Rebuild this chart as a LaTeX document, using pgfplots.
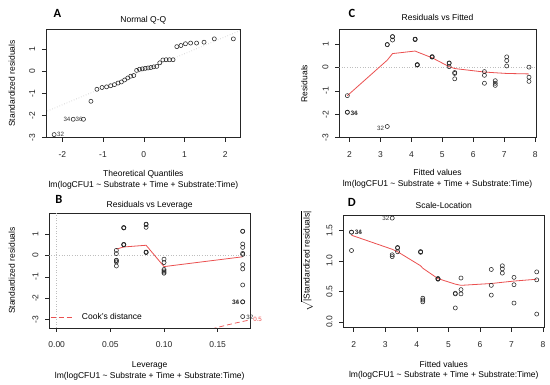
\documentclass[border=0pt]{standalone}
\usepackage{fontspec}
\setmainfont{Liberation Sans}
\newfontfamily\carlito{Carlito}
\usepackage{pgfplots}
\pgfplotsset{compat=1.18}
\definecolor{rred}{RGB}{235,80,80}
\definecolor{rgray}{RGB}{190,190,190}
\newcommand{\fs}{\fontsize{8.5}{10.6}\selectfont}
\newcommand{\fl}{\fontsize{6.2}{7}\selectfont}
\newcommand{\sub}{lm(logCFU1 \textasciitilde{} Substrate + Time + Substrate:Time)}
\tikzset{lab/.style={font=\fl, text=black!80, inner sep=0pt},
  letter/.style={font=\carlito\bfseries\fontsize{12.5}{13}\selectfont}}
\pgfplotsset{
  rplot/.style={
    scale only axis,
    anchor=north west,
    clip mode=individual,
    axis line style={line width=0.5pt, black!85},
    every tick/.style={black!85, line width=0.5pt},
    tick align=outside,
    major tick length=4pt,
    xtick pos=bottom, ytick pos=left,
    /pgf/number format/assume math mode=true,
    tick label style={font=\fs, text=black!85},
    xticklabel style={anchor=north, inner sep=0pt, yshift=-10pt},
    yticklabel style={xshift=-6.6pt, rotate=90, anchor=south, inner sep=0pt},
    label style={font=\fs},
    xlabel style={align=center, anchor=center, at={(axis description cs:0.5,0)}},
    ylabel style={anchor=center},
    title style={font=\fs, anchor=center, at={(axis description cs:0.5,1)}},
  },
  pt/.style={only marks, mark=o, mark size=2.05pt, mark options={line width=0.55pt, black!85}},
}
\begin{document}
\begin{tikzpicture}
\useasboundingbox (0,0) rectangle (550pt,-385pt);
\fill[white] (0,0) rectangle (550pt,-385pt);

% ---------------- A: Normal Q-Q ----------------
\begin{axis}[rplot,
  at={(46pt,-29.3pt)}, width=194.7pt, height=108.4pt,
  xmin=-2.40, xmax=2.38, ymin=-3.0, ymax=1.88,
  xtick={-2,-1,0,1,2}, xticklabels={-2,-1,0,1,2},
  ytick={-3,-2,-1,0,1}, yticklabels={-3,-2,-1,0,1},
  title={Normal Q-Q}, title style={yshift=2.6pt},
  xlabel={Theoretical Quantiles\\\sub}, xlabel style={yshift=-42pt},
  ylabel={Standardized residuals}, ylabel style={at={(axis description cs:-0.176,0.5)}},
]
\addplot[rgray, dotted, line width=0.6pt] coordinates {(-2.6,-1.979) (2.6,2.0)};
\addplot[pt] coordinates {
(-2.200,-2.86) (-1.732,-2.17) (-1.480,-2.17) (-1.297,-1.36) (-1.150,-0.82) (-1.024,-0.74)
(-0.913,-0.71) (-0.812,-0.66) (-0.719,-0.61) (-0.631,-0.54) (-0.549,-0.49) (-0.469,-0.40)
(-0.393,-0.31) (-0.319,-0.23) (-0.246,-0.20) (-0.175,0.03) (-0.105,0.08) (-0.035,0.10)
(0.035,0.12) (0.105,0.14) (0.175,0.16) (0.246,0.19) (0.319,0.21) (0.393,0.37)
(0.469,0.50) (0.549,0.51) (0.631,0.51) (0.719,0.51) (0.812,1.10) (0.913,1.15)
(1.024,1.23) (1.150,1.26) (1.297,1.26) (1.480,1.30) (1.732,1.45) (2.200,1.45)};
\node[lab, anchor=west, xshift=2.8pt] at (axis cs:-2.2,-2.86) {32};
\node[lab, anchor=east, xshift=-2.6pt] at (axis cs:-1.732,-2.17) {34};
\node[lab, anchor=west, xshift=2.2pt] at (axis cs:-1.732,-2.17) {36};
\end{axis}

% ---------------- C: Residuals vs Fitted ----------------
\begin{axis}[rplot,
  at={(339.3pt,-29.3pt)}, width=196.5pt, height=108.4pt,
  xmin=1.67, xmax=8.02, ymin=-3.0, ymax=1.64,
  xtick={2,3,4,5,6,7,8}, xticklabels={2,3,4,5,6,7,8},
  ytick={-3,-2,-1,0,1}, yticklabels={-3,-2,-1,0,1},
  title={Residuals vs Fitted}, title style={yshift=5.6pt},
  xlabel={Fitted values\\\sub}, xlabel style={yshift=-41.3pt},
  ylabel={Residuals}, ylabel style={at={(axis description cs:-0.178,0.5)}},
]
\addplot[rgray, dotted, line width=0.6pt] coordinates {(1.5,0) (8.2,0)};
\addplot[rred, line width=0.8pt] coordinates {(1.93,-1.20) (3.22,0.32) (3.39,0.60) (4.12,0.71) (4.19,0.67) (4.67,0.42) (5.22,0.04) (5.40,-0.04) (6.36,-0.19) (6.71,-0.22) (7.08,-0.25) (7.80,-0.27)};
\addplot[pt] coordinates {
(1.93,-1.20) (1.93,-1.91) (1.93,-1.91)
(3.22,0.98) (3.22,0.99) (3.22,-2.52)
(3.39,1.33) (3.39,1.18) (3.39,1.32)
(4.12,1.20) (4.12,1.22) (4.12,1.21)
(4.19,0.12) (4.19,0.13) (4.19,0.11)
(4.67,0.46) (4.67,0.47) (4.67,0.45)
(5.22,0.20) (5.22,0.19) (5.22,0.04)
(5.40,-0.21) (5.40,-0.25) (5.40,-0.48)
(6.36,-0.17) (6.36,-0.33) (6.36,-0.67)
(6.71,-0.56) (6.71,-0.67) (6.71,-0.76)
(7.08,0.46) (7.08,0.30) (7.08,0.07)
(7.80,0.02) (7.80,-0.41) (7.80,-0.59)};
\node[lab, anchor=west, xshift=3.2pt, yshift=-1.5pt] at (axis cs:1.93,-1.91) {34};
\node[lab, anchor=west, xshift=3.4pt, yshift=-1.5pt] at (axis cs:1.93,-1.91) {36};
\node[lab, anchor=east, xshift=-3pt, yshift=-1.4pt] at (axis cs:3.22,-2.52) {32};
\end{axis}

% ---------------- B: Residuals vs Leverage ----------------
\begin{axis}[rplot,
  at={(49.3pt,-213.3pt)}, width=200.8pt, height=114.5pt,
  xmin=-0.0069, xmax=0.1802, ymin=-3.386, ymax=1.977,
  xtick={0,0.05,0.1,0.15}, xticklabels={0.00,0.05,0.10,0.15},
  ytick={-3,-2,-1,0,1}, yticklabels={-3,-2,-1,0,1},
  title={Residuals vs Leverage}, title style={yshift=2pt},
  xlabel={Leverage\\\sub}, xlabel style={yshift=-43.4pt},
  ylabel={Standardized residuals}, ylabel style={at={(axis description cs:-0.186,0.5)}},
  legend style={at={(axis description cs:0,0)}, anchor=west, xshift=0.7pt, yshift=10.5pt,
    draw=none, fill=none, font=\fs, inner sep=0pt, nodes={inner sep=0pt},
    /tikz/every odd column/.append style={column sep=9pt}},
  legend image code/.code={\draw[rred, line width=0.8pt, dash pattern=on 5pt off 3pt] (0pt,0pt) -- (22pt,0pt);},
]
\addplot[rgray, dotted, line width=0.6pt, forget plot] coordinates {(-0.01,0) (0.19,0)};
\addplot[rgray, dotted, line width=0.6pt, forget plot] coordinates {(0,-3.5) (0,2.1)};
\addplot[rred, line width=0.8pt, forget plot] coordinates {(0.0556,0.30) (0.0625,0.40) (0.0833,0.48) (0.1000,-0.52) (0.1733,-0.06)};
\addplot[pt, forget plot] coordinates {
(0.0556,0.24) (0.0556,0.09) (0.0556,-0.22) (0.0556,-0.24) (0.0556,-0.30) (0.0556,-0.49)
(0.0625,1.30) (0.0625,1.29) (0.0625,1.31) (0.0625,0.51) (0.0625,0.50) (0.0625,0.52)
(0.0833,1.47) (0.0833,1.45) (0.0833,1.32) (0.0833,0.15) (0.0833,0.14) (0.0833,0.16)
(0.1000,-0.17) (0.1000,-0.33) (0.1000,-0.65) (0.1000,-0.72) (0.1000,-0.78) (0.1000,-0.83)
(0.1733,1.13) (0.1733,1.14) (0.1733,0.54) (0.1733,0.38) (0.1733,0.10) (0.1733,0.05)
(0.1733,-0.43) (0.1733,-0.63) (0.1733,-1.38) (0.1733,-2.17) (0.1733,-2.17) (0.1733,-2.86)};
\addplot[rred, line width=0.7pt, dash pattern=on 5pt off 3pt] coordinates {
(0.130,-3.662) (0.135,-3.581) (0.140,-3.505) (0.145,-3.434) (0.150,-3.367) (0.155,-3.302)
(0.160,-3.240) (0.165,-3.181) (0.170,-3.125) (0.175,-3.071) (0.180,-3.018) (0.1802,-3.016)};
\addlegendentry{Cook's distance}
\node[lab, anchor=east, xshift=-3.4pt, yshift=-0.5pt] at (axis cs:0.1733,-2.17) {34};
\node[lab, anchor=east, xshift=-3.2pt, yshift=-0.5pt] at (axis cs:0.1733,-2.17) {36};
\node[lab, anchor=west, xshift=3.5pt, yshift=-1pt] at (axis cs:0.1733,-2.86) {32};
\node[font=\fl, text=rred, inner sep=0pt, anchor=west, xshift=3pt] at (axis cs:0.1802,-2.99) {0.5};
\end{axis}

% ---------------- D: Scale-Location ----------------
\begin{axis}[rplot,
  at={(343.3pt,-215.3pt)}, width=201pt, height=112.4pt,
  xmin=1.67, xmax=8.04, ymin=-0.093, ymax=1.746,
  xtick={2,3,4,5,6,7,8}, xticklabels={2,3,4,5,6,7,8},
  ytick={0,0.5,1,1.5}, yticklabels={0.0,0.5,1.0,1.5},
  title={Scale-Location}, title style={yshift=4pt},
  xlabel={Fitted values\\\sub}, xlabel style={yshift=-42.6pt},
  ylabel={$\sqrt{\mbox{|Standardized residuals|}}$}, ylabel style={at={(axis description cs:-0.182,0.59)}},
]
\addplot[rred, line width=0.8pt] coordinates {(1.93,1.42) (3.22,1.19) (3.39,1.15) (4.12,0.92) (4.19,0.88) (4.67,0.71) (5.22,0.62) (5.40,0.60) (6.36,0.63) (6.71,0.65) (7.08,0.67) (7.80,0.70)};
\addplot[pt] coordinates {
(1.93,1.47) (1.93,1.47) (1.93,1.17)
(3.22,1.10) (3.22,1.07) (3.22,1.70)
(3.39,1.22) (3.39,1.21) (3.39,1.15)
(4.12,1.15) (4.12,1.14) (4.12,1.15)
(4.19,0.39) (4.19,0.36) (4.19,0.33)
(4.67,0.71) (4.67,0.71) (4.67,0.70)
(5.22,0.47) (5.22,0.46) (5.22,0.23)
(5.40,0.72) (5.40,0.53) (5.40,0.46)
(6.36,0.86) (6.36,0.60) (6.36,0.44)
(6.71,0.92) (6.71,0.87) (6.71,0.80)
(7.08,0.73) (7.08,0.61) (7.08,0.31)
(7.80,0.82) (7.80,0.69) (7.80,0.13)};
\node[lab, anchor=west, xshift=3.2pt] at (axis cs:1.93,1.47) {34};
\node[lab, anchor=west, xshift=3.4pt] at (axis cs:1.93,1.47) {36};
\node[lab, anchor=east, xshift=-2.7pt] at (axis cs:3.22,1.70) {32};
\end{axis}

% panel letters
\node[letter] at (57.5pt,-13.3pt) {A};
\node[letter] at (352pt,-13.3pt) {C};
\node[letter] at (58.8pt,-199.7pt) {B};
\node[letter] at (351.8pt,-202.7pt) {D};
\end{tikzpicture}
\end{document}
